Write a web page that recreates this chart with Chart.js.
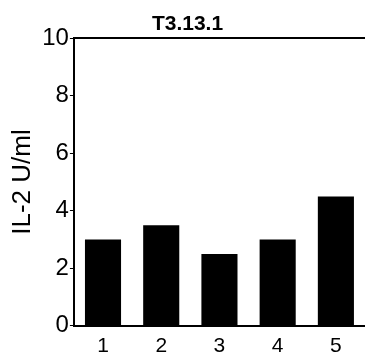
<!DOCTYPE html>
<html>
<head>
<meta charset="utf-8">
<script src="https://cdn.jsdelivr.net/npm/chart.js@4/dist/chart.umd.min.js"></script>
<style>
  html, body { margin: 0; padding: 0; background: #fff; }
  #wrap { width: 365px; height: 358px; }
</style>
</head>
<body>
<div id="wrap"><canvas id="grafico"></canvas></div>
<script>
const categorias = ['1', '2', '3', '4', '5'];
const valores = [3.0, 3.5, 2.5, 3.0, 4.5];
const titulo = 'T3.13.1';
const tituloEixoY = 'IL-2 U/ml';

const fonte = "'Liberation Sans', Arial, sans-serif";

const ctx = document.getElementById('grafico').getContext('2d');
new Chart(ctx, {
  type: 'bar',
  data: {
    labels: categorias,
    datasets: [{
      data: valores,
      backgroundColor: '#000',
      borderWidth: 0,
      barPercentage: 0.62,
      categoryPercentage: 1
    }]
  },
  options: {
    responsive: true,
    maintainAspectRatio: false,
    animation: false,
    layout: { padding: { left: 7, right: -3, top: 0, bottom: -9 } },
    plugins: {
      legend: { display: false },
      tooltip: { enabled: false },
      title: {
        display: true,
        text: titulo,
        color: '#000',
        font: { family: fonte, size: 21, weight: 'bold' },
        padding: { top: 12, bottom: 1 }
      }
    },
    scales: {
      x: {
        offset: true,
        grid: { display: false, drawTicks: false },
        border: { display: true, color: '#000', width: 2 },
        ticks: { color: '#000', padding: 8, font: { family: fonte, size: 21 } }
      },
      xTopo: {
        type: 'category',
        labels: categorias,
        position: 'top',
        offset: true,
        grid: { display: false, drawTicks: false },
        border: { display: true, color: '#000', width: 2 },
        ticks: { display: false }
      },
      y: {
        min: 0,
        max: 10,
        ticks: { stepSize: 2, color: '#000', padding: 1, font: { family: fonte, size: 24 } },
        grid: { drawOnChartArea: false, drawTicks: true, tickLength: 4, color: '#000', lineWidth: 1 },
        border: { display: true, color: '#000', width: 2 },
        title: {
          display: true,
          text: tituloEixoY,
          color: '#000',
          font: { family: fonte, size: 26 },
          padding: { top: 0, bottom: 3 }
        }
      }
    }
  }
});
</script>
</body>
</html>
